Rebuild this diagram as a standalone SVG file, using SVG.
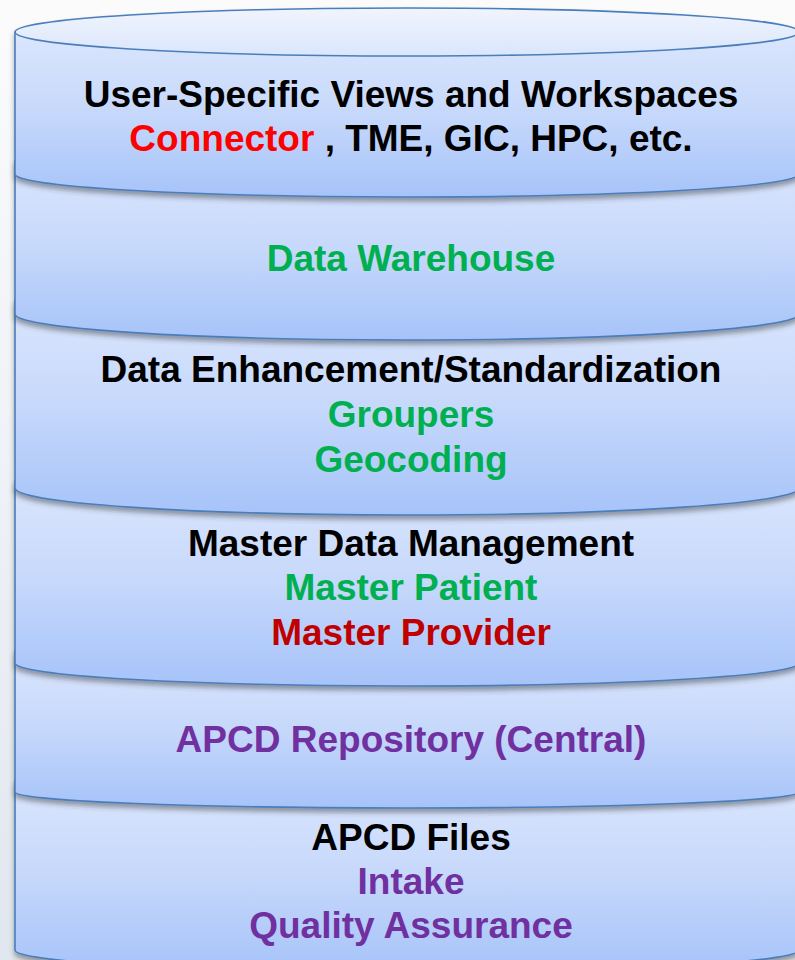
<svg xmlns="http://www.w3.org/2000/svg" width="795" height="960" viewBox="0 0 795 960">
<defs>
<linearGradient id="bg" x1="0" y1="0" x2="0" y2="1"><stop offset="0" stop-color="#fbfbfc"/><stop offset="1" stop-color="#e1e7ef"/></linearGradient>
<linearGradient id="body" x1="0" y1="0" x2="0" y2="1"><stop offset="0" stop-color="#dbe6fd"/><stop offset="0.5" stop-color="#c6d8fb"/><stop offset="1" stop-color="#a6c3f9"/></linearGradient>
<linearGradient id="lid" x1="0" y1="0" x2="0" y2="1"><stop offset="0" stop-color="#f0f4fd"/><stop offset="1" stop-color="#dbe6fc"/></linearGradient>
<filter id="sh" x="-5%" y="-5%" width="110%" height="120%"><feDropShadow dx="0" dy="4" stdDeviation="2.5" flood-color="#333" flood-opacity="0.45"/></filter>
</defs>
<style>
.layer path.b{fill:url(#body);stroke:#4a7ebb;stroke-width:1.6}
.lid{fill:url(#lid);stroke:#4a7ebb;stroke-width:1.6}
text{font-family:"Liberation Sans",Arial,sans-serif;font-weight:bold;font-size:37px;text-anchor:middle}
.k{fill:#000}.g{fill:#00b050}.r{fill:#ff0000}.dr{fill:#c00000}.p{fill:#7030a0}
</style>
<rect x="0" y="0" width="795" height="960" fill="url(#bg)"/>
<g id="layer6" class="layer" filter="url(#sh)">
<path class="b" d="M15,780 L15,950 A392,22 0 0 0 799,950 L799,780"/>
</g>
<g id="layer5" class="layer" filter="url(#sh)">
<path class="b" d="M15,650 L15,792 A392,16 0 0 0 799,792 L799,650"/>
</g>
<g id="layer4" class="layer" filter="url(#sh)">
<path class="b" d="M15,480 L15,663 A392,23 0 0 0 799,663 L799,480"/>
</g>
<g id="layer3" class="layer" filter="url(#sh)">
<path class="b" d="M15,300 L15,488 A392,27 0 0 0 799,488 L799,300"/>
</g>
<g id="layer2" class="layer" filter="url(#sh)">
<path class="b" d="M15,160 L15,314 A392,26 0 0 0 799,314 L799,160"/>
</g>
<g id="layer1" class="layer" filter="url(#sh)">
<path class="b" d="M15,32 L15,174 A392,23 0 0 0 799,174 L799,32"/>
<ellipse class="lid" cx="407" cy="32" rx="392" ry="24"/>
</g>
<g id="labels">
<text x="411" y="107" class="k">User-Specific Views and Workspaces</text>
<text x="411" y="151"><tspan class="r">Connector</tspan><tspan class="k"> , TME, GIC, HPC, etc.</tspan></text>
<text x="411" y="271" class="g">Data Warehouse</text>
<text x="411" y="382" class="k">Data Enhancement/Standardization</text>
<text x="411" y="427" class="g">Groupers</text>
<text x="411" y="472" class="g">Geocoding</text>
<text x="411" y="556" class="k">Master Data Management</text>
<text x="411" y="600" class="g">Master Patient</text>
<text x="411" y="645" class="dr">Master Provider</text>
<text x="411" y="752" class="p">APCD Repository (Central)</text>
<text x="411" y="850" class="k">APCD Files</text>
<text x="411" y="894" class="p">Intake</text>
<text x="411" y="938" class="p">Quality Assurance</text>
</g>
</svg>
